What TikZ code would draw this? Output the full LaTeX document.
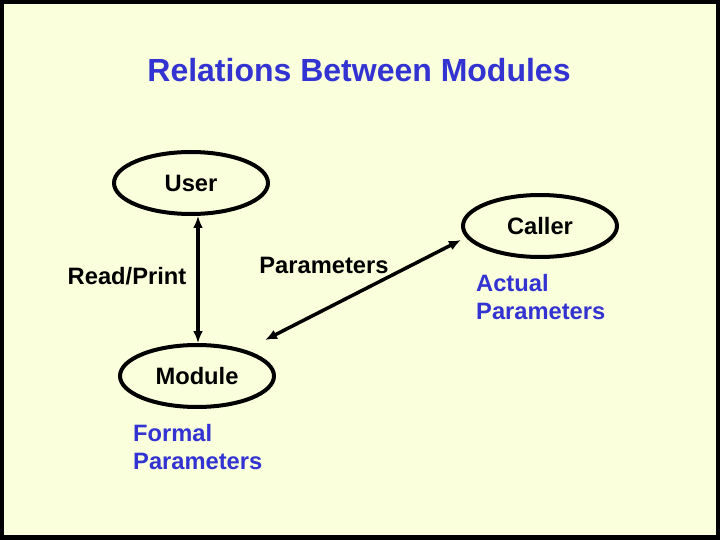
\documentclass[tikz,border=0pt]{standalone}
\usepackage{fontspec}
\setmainfont{Liberation Sans}
\usetikzlibrary{shapes.geometric,arrows.meta}
\definecolor{paper}{RGB}{250,255,220}
\definecolor{slideblue}{RGB}{51,51,210}
\tikzset{
  module/.style={ellipse,draw,line width=4pt,minimum width=154pt,minimum height=62pt,inner sep=0pt},
  label/.style={font=\bfseries\fontsize{23.7}{28}\selectfont},
  note/.style={font=\bfseries\fontsize{23.7}{28}\selectfont,text=slideblue,align=left,anchor=west,inner sep=0pt},
  link/.style={line width=3.5pt,{Latex[length=12pt,width=10pt]}-{Latex[length=12pt,width=10pt]}}
}
\begin{document}
\begin{tikzpicture}[x=1pt,y=-1pt]
  \fill[black] (0,0) rectangle (720,540);
  \fill[paper] (4,4) rectangle (716,535);
  \useasboundingbox (0,0) rectangle (720,540);
  \node (title) at (359,70) [font=\bfseries\fontsize{32}{38}\selectfont,text=slideblue] {Relations Between Modules};
  % modules
  \node[module] (user) at (191,183) {};
  \node[label] at (user.center) {User};
  \node[module] (caller) at (540,226) {};
  \node[label] at (caller.center) {Caller};
  \node[module] (module) at (197,376) {};
  \node[label] at (module.center) {Module};
  % connectors
  \draw[link] (user.south -| 198,0) -- (module.north -| 198,0);
  \draw[link] (caller.west |- 0,240) -- (265,340);
  \node[label] (readprint) at (127,276) {Read/Print};
  \node[label] (params) at (324,265) {Parameters};
  \node[note] (actual) at (476,297) {Actual\\Parameters};
  \node[note] (formal) at (133,447) {Formal\\Parameters};
\end{tikzpicture}
\end{document}
